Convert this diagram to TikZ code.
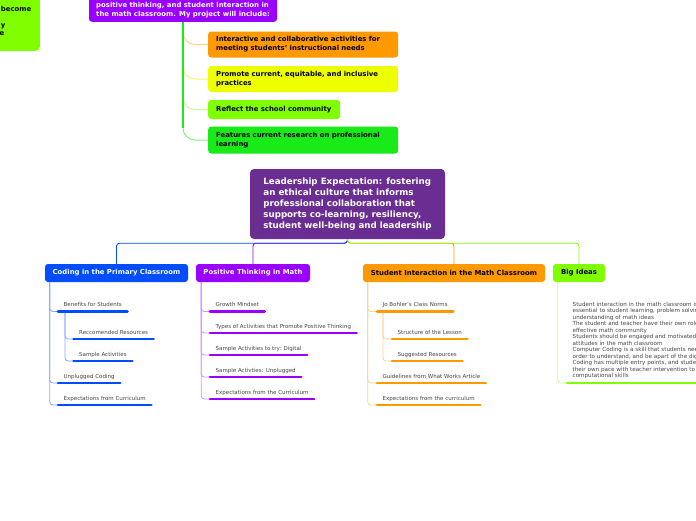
\documentclass[tikz,border=0pt]{standalone}
\usepackage{fontspec}
\setmainfont{DejaVu Sans}
\usetikzlibrary{calc}
\definecolor{cblue}{RGB}{0,76,255}
\definecolor{lblue}{RGB}{140,165,255}
\definecolor{cviol}{RGB}{153,0,255}
\definecolor{lviol}{RGB}{205,150,255}
\definecolor{corg}{RGB}{255,153,0}
\definecolor{lorg}{RGB}{255,210,145}
\definecolor{clime}{RGB}{128,255,0}
\definecolor{llime}{RGB}{195,255,140}
\definecolor{cyel}{RGB}{238,255,0}
\definecolor{lyel}{RGB}{240,248,110}
\definecolor{cgrn}{RGB}{25,235,25}
\definecolor{lgrn}{RGB}{130,240,130}
\definecolor{cpur}{RGB}{106,45,145}
\definecolor{itemtxt}{RGB}{70,70,70}
\begin{document}
\begin{tikzpicture}[x=1pt,y=-1pt,
  topfont/.style={font=\fontsize{6.9}{9}\selectfont\bfseries},
  topbox/.style={topfont, fill=#1, rounded corners=3pt, inner ysep=0pt, inner xsep=8pt, minimum height=26pt, text width=174pt, align=left},
  lvl/.style={fill=#1, rounded corners=3pt, inner sep=0pt, minimum height=18pt, font=\fontsize{6.9}{8}\selectfont\bfseries},
  item/.style={inner xsep=5.5pt, inner ysep=3.7pt, text height=4.2pt, text depth=1pt, font=\fontsize{5.5}{6.5}\selectfont, text=itemtxt, anchor=south west},
  bar/.style={line width=2.6pt, line cap=round, draw=#1},
  sub/.style={draw=#1, line width=0.8pt, rounded corners=3pt},
  main/.style={draw=#1, line width=0.9pt, rounded corners=3pt},
  branch/.style={draw=#1, line width=1pt, rounded corners=12pt},
]
\useasboundingbox (0,0) rectangle (696,520);
\fill[white] (0,0) rectangle (696,520);
\clip (0,0) rectangle (696,520);

% ---------- top-left green box (cut off) ----------
\node[fill=clime, rounded corners=4pt, inner sep=0pt, minimum width=100pt, minimum height=80pt, anchor=south east] (lg) at (40,51) {};
\node[topfont, anchor=base east, inner sep=0pt] (lg1) at (31.5,11.5) {become};
\node[topfont, anchor=base east, inner sep=0pt] (lg2) at (5.5,27.5) {y};
\node[topfont, anchor=base east, inner sep=0pt] (lg3) at (4.5,35.5) {e};

% ---------- top purple box (cut off) ----------
\node[topfont, text=white, fill=cviol, rounded corners=3pt, inner xsep=7pt, inner ysep=4pt, minimum width=188pt, align=left, anchor=south] (tp) at (183,22)
  {The focus of my project is coding,\\positive thinking, and student interaction in\\the math classroom. My project will include:};

\node[topbox=corg, anchor=west] (t1) at (208,44.5) {Interactive and collaborative activities for\\meeting students’ instructional needs};
\node[topbox=cyel, anchor=west] (t2) at (208,79) {Promote current, equitable, and inclusive\\practices};
\node[topfont, fill=clime, rounded corners=3pt, inner ysep=0pt, inner xsep=8pt, minimum height=19pt, text width=116pt, align=left, anchor=west] (t3) at (208,109.5) {Reflect the school community};
\node[topbox=cgrn, anchor=west, minimum height=27pt] (t4) at (208,140) {Features current research on professional\\learning};

\draw[branch=lorg] (tp.south) |- (t1.west);
\draw[branch=lyel] (tp.south) |- (t2.west);
\draw[branch=llime] (tp.south) |- (t3.west);
\draw[branch=lgrn] (tp.south) |- (t4.west);
\draw[cgrn, line width=2pt] (tp.south) -- ($(tp.south |- t4.west)+(0,-12)$);

% ---------- central box ----------
\node[fill=cpur, text=white, rounded corners=4pt, inner xsep=10pt, inner ysep=0pt, minimum height=70pt, minimum width=195pt, align=left, font=\fontsize{8.7}{11}\selectfont\bfseries] (cen) at (347.5,204)
  {Leadership Expectation: fostering\\an ethical culture that informs\\professional collaboration that\\supports co-learning, resiliency,\\student well-being and leadership};

% ---------- level 1 boxes ----------
\node[lvl=cblue, text=white, minimum width=143pt] (cod) at (116.5,273) {Coding in the Primary Classroom};
\node[lvl=cviol, text=white, minimum width=114pt] (pos) at (253,273) {Positive Thinking in Math};
\node[lvl=corg, text=black, minimum width=182pt] (stu) at (454,273) {Student Interaction in the Math Classroom};
\node[lvl=clime, text=black, minimum width=52pt] (big) at (579,273) {Big Ideas};

\draw[main=cviol] (cen.south) -- ++(0,4) -| (pos.north);
\draw[main=corg] (cen.south) -- ++(0,4) -| (stu.north);
\draw[main=cblue] (cen.south) -- ++(0,4) -| (cod.north);
\draw[main=clime] (cen.south) -- ++(0,4) -| (big.north);

% ---------- Coding items ----------
\node[item] (c1) at (58,311.5) {Benefits for Students};
\node[item] (c2) at (73.5,339) {Reccomended Resources};
\node[item] (c3) at (73.5,361) {Sample Activities};
\node[item] (c4) at (58,383) {Unplugged Coding};
\node[item] (c5) at (58,405) {Expectations from Curriculum};
\foreach \n in {c1,c4,c5} \draw[sub=lblue] ($(cod.south west)+(5,0)$) |- (\n.south west);
\foreach \n in {c2,c3} \draw[sub=lblue] ($(c1.south west)+(7,0)$) |- (\n.south west);
\foreach \n in {c1,c2,c3,c4,c5} \draw[bar=cblue] (\n.south west) -- (\n.south east);

% ---------- Positive items ----------
\node[item] (p1) at (210,311.5) {Growth Mindset};
\node[item] (p2) at (210,333) {Types of Activities that Promote Positive Thinking};
\node[item] (p3) at (210,355) {Sample Activities to try: Digital};
\node[item] (p4) at (210,377) {Sample Activties: Unplugged};
\node[item] (p5) at (210,399) {Expectations from the Curriculum};
\foreach \n in {p1,p2,p3,p4,p5} \draw[sub=lviol] ($(pos.south west)+(5.5,0)$) |- (\n.south west);
\foreach \n in {p1,p2,p3,p4,p5} \draw[bar=cviol] (\n.south west) -- (\n.south east);

% ---------- Student items ----------
\node[item] (s1) at (377,311.5) {Jo Bohler's Class Norms};
\node[item] (s2) at (392,339) {Structure of the Lesson};
\node[item] (s3) at (392,361) {Suggested Resources};
\node[item] (s4) at (377,383) {Guidelines from What Works Article};
\node[item] (s5) at (377,405) {Expectations from the curriculum};
\foreach \n in {s1,s4,s5} \draw[sub=lorg] ($(stu.south west)+(5,0)$) |- (\n.south west);
\foreach \n in {s2,s3} \draw[sub=lorg] ($(s1.south west)+(6,0)$) |- (\n.south west);
\foreach \n in {s1,s2,s3,s4,s5} \draw[bar=corg] (\n.south west) -- (\n.south east);

% ---------- Big ideas ----------
\node[inner xsep=5.5pt, inner ysep=3.8pt, font=\fontsize{5.6}{6.5}\selectfont, text=itemtxt, anchor=south west, text width=240pt, align=left] (b1) at (567,383)
 {Student interaction in the math classroom is key\\
  essential to student learning, problem solving and\\
  understanding of math ideas\\
  The student and teacher have their own roles in an\\
  effective math community\\
  Students should be engaged and motivated to have\\
  attitudes in the math classroom\\
  Computer Coding is a skill that students need in\\
  order to understand, and be apart of the digital\\
  Coding has multiple entry points, and students\\
  their own pace with teacher intervention to practice\\
  computational skills};
\draw[sub=llime] ($(big.south west)+(5,0)$) |- (b1.south west);
\draw[bar=clime] (b1.south west) -- (b1.south east);
\end{tikzpicture}
\end{document}
